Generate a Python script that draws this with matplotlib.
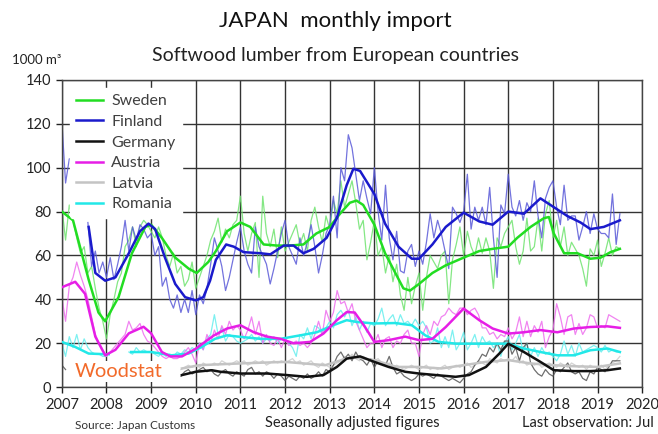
import matplotlib
matplotlib.use("Agg")
import matplotlib.pyplot as plt
import numpy as np

nan = np.nan

# monthly raw figures (1000 m3), Jan 2007 - Jul 2019
sweden = [82, 67, 83, 76, 68, 61, 64, 52, 55, 45, 36, 30,
          22, 33, 40, 48, 52, 64, 67, 73, 64, 73, 76, 74,
          71, 68, 73, 68, 60, 55, 61, 52, 55, 46, 49, 57,
          45, 50, 55, 60, 67, 71, 77, 66, 72, 68, 74, 76,
          87, 70, 62, 70, 75, 50, 87, 70, 64, 72, 59, 73,
          62, 66, 70, 74, 65, 70, 62, 76, 82, 73, 66, 78,
          72, 85, 79, 94, 82, 88, 94, 84, 72, 76, 58, 66,
          76, 60, 64, 52, 60, 48, 56, 42, 35, 50, 38, 46,
          52, 35, 50, 60, 57, 54, 60, 62, 38, 58, 65, 73,
          60, 71, 64, 60, 68, 61, 68, 62, 45, 68, 64, 70,
          73, 76, 64, 56, 62, 77, 62, 64, 77, 62, 79, 85,
          68, 76, 64, 73, 60, 66, 63, 60, 54, 46, 63, 60,
          67, 55, 61, 68, 60, 64, 63]
finland = [121, 93, 104, 104, 99, nan, nan, 75, 55, 62, 52, 57,
           50, 59, 49, 56, 64, 76, 62, 73, 67, 74, 72, 68,
           70, 60, 64, 46, 50, 40, 36, 42, 34, 40, 34, 44,
           33, 42, 38, 45, 56, 68, 62, 55, 44, 50, 58, 66,
           73, 62, 56, 52, 73, 64, 60, 56, 47, 54, 62, 70,
           76, 64, 60, 56, 68, 60, 66, 74, 64, 52, 60, 70,
           74, 87, 68, 100, 94, 115, 109, 97, 85, 94, 86, 79,
           100, 80, 67, 92, 68, 58, 71, 53, 52, 62, 65, 55,
           62, 56, 66, 79, 68, 76, 70, 62, 54, 82, 79, 75,
           80, 97, 72, 82, 76, 82, 74, 91, 68, 50, 83, 79,
           97, 82, 78, 85, 76, 84, 80, 94, 78, 68, 86, 91,
           94, 82, 74, 92, 76, 78, 78, 67, 73, 80, 70, 79,
           72, 70, 70, 68, 88, 65, 79]
germany = [10, 8, nan, nan, nan, nan, nan, nan, nan, nan, nan, nan,
           nan, nan, nan, nan, nan, nan, nan, nan, nan, nan, nan, nan,
           nan, nan, nan, nan, nan, nan, nan, nan, 5, 7, 8, 6,
           7, 8, 9, 7, 8, 6, 5, 7, 8, 6, 5, 7,
           6, 5, 8, 9, 6, 7, 5, 7, 6, 4, 6, 5,
           3, 5, 4, 3, 5, 4, 6, 4, 5, 7, 5, 8,
           7, 10, 14, 16, 13, 15, 12, 16, 13, 12, 10, 13,
           9, 12, 11, 10, 14, 9, 6, 7, 5, 4, 3, 4,
           6, 5, 6, 5, 4, 6, 5, 4, 3, 4, 3, 2,
           4, 6, 7, 10, 12, 15, 14, 18, 16, 20, 17, 21,
           21, 15, 18, 12, 18, 20, 11, 8, 6, 5, 8, 6,
           5, 8, 7, 9, 11, 7, 6, 7, 4, 3, 7, 6,
           9, 8, 7, 9, 12, 12, 12]
austria = [41, 30, 46, 50, 57, 51, 46, 40, 32, 24, 20, 17,
           14, 16, 18, 20, 22, 24, 30, 26, 27, 29, 24, 21,
           20, 18, 16, 14, 13, 14, 13, 13, 14, 16, 18, 15,
           11, 20, 17, 24, 20, 26, 22, 28, 24, 30, 26, 28,
           26, 22, 26, 32, 24, 30, 20, 24, 20, 19, 22, 18,
           22, 19, 20, 21, 19, 20, 18, 20, 24, 30, 24, 35,
           30, 34, 44, 38, 39, 34, 38, 30, 26, 22, 18, 20,
           20, 24, 18, 22, 23, 18, 21, 20, 24, 26, 20, 20,
           14, 24, 28, 24, 30, 28, 32, 33, 36, 34, 33, 36,
           36, 33, 35, 36, 33, 27, 27, 24, 25, 22, 24, 23,
           27, 22, 25, 32, 23, 30, 23, 28, 25, 30, 18, 23,
           26, 38, 32, 24, 32, 33, 24, 29, 24, 27, 33, 32,
           27, 28, 27, 33, 32, 31, 30]
latvia = [nan, nan, nan, nan, nan, nan, nan, nan, nan, nan, nan, nan,
          nan, nan, nan, nan, nan, nan, nan, nan, nan, nan, nan, nan,
          nan, nan, nan, nan, nan, nan, nan, nan, 8, 9, 10, 9,
          10, 9, 11, 10, 10, 11, 10, 12, 11, 10, 11, 12,
          11, 12, 10, 11, 12, 11, 12, 10, 11, 12, 11, 12,
          11, 12, 13, 11, 12, 10, 11, 12, 10, 9, 11, 10,
          9, 10, 11, 12, 14, 13, 15, 13, 12, 14, 13, 12,
          12, 13, 11, 10, 11, 9, 10, 9, 8, 9, 10, 9,
          8, 9, 10, 8, 9, 8, 9, 10, 8, 9, 10, 9,
          10, 11, 9, 10, 12, 11, 10, 13, 12, 11, 13, 12,
          13, 12, 14, 11, 12, 10, 11, 10, 11, 9, 10, 11,
          10, 9, 11, 10, 9, 11, 10, 9, 10, 8, 10, 9,
          9, 10, 8, 10, 11, 12, 14]
romania = [20, 14, 23, 18, 24, 17, 22, 18, 16, 15, 15, 14,
           14, nan, nan, nan, nan, nan, 16, 15, 18, 16, 17, 16,
           16, 15, 14, 16, 14, 15, 14, 16, 15, 17, 16, 18,
           17, 20, 17, 22, 24, 33, 24, 27, 21, 24, 23, 21,
           20, 21, 22, 24, 21, 23, 20, 22, 21, 23, 20, 22,
           22, 20, 18, 14, 24, 22, 27, 22, 28, 27, 24, 27,
           30, 27, 33, 35, 32, 35, 28, 32, 26, 30, 25, 29,
           28, 31, 36, 28, 31, 33, 28, 33, 29, 30, 28, 31,
           28, 30, 27, 20, 21, 27, 18, 23, 18, 26, 17, 20,
           25, 17, 20, 24, 18, 23, 20, 21, 18, 20, 14, 20,
           23, 17, 20, 24, 16, 20, 14, 18, 14, 18, 15, 16,
           14, 12, 15, 21, 15, 19, 14, 20, 16, 17, 18, 19,
           18, 16, 19, 16, 17, 16, 16]

# smoothed trend lines (year, value)
sweden_tx = [2007.0, 2007.25, 2007.6, 2007.82, 2007.97, 2008.27, 2008.57, 2008.87, 2009.0,
             2009.24, 2009.54, 2009.84, 2010.02, 2010.28, 2010.45, 2010.7, 2011.0, 2011.22,
             2011.52, 2011.82, 2012.11, 2012.41, 2012.7, 2013.0, 2013.23, 2013.45, 2013.6,
             2013.75, 2014.0, 2014.24, 2014.47, 2014.65, 2014.8, 2015.0, 2015.3, 2015.6,
             2016.0, 2016.35, 2016.65, 2017.0, 2017.2, 2017.5, 2017.8, 2017.91, 2018.02,
             2018.25, 2018.55, 2018.84, 2019.07, 2019.29, 2019.5]
sweden_t = [80, 76, 49, 34, 30, 41, 61, 73, 74, 68, 59, 54, 52, 57, 62, 71, 75, 73, 65, 64.5,
            64.5, 65, 70, 73, 79, 84, 85, 83, 74, 61, 52, 45, 44, 47, 52, 55.5, 59, 62, 63, 64,
            68, 73, 77, 77.5, 70, 61, 61, 58.5, 59, 61.5, 63]
finland_tx = [2007.6, 2007.75, 2007.97, 2008.2, 2008.5, 2008.75, 2008.94, 2009.09, 2009.31,
              2009.54, 2009.76, 2010.0, 2010.17, 2010.32, 2010.45, 2010.68, 2010.85, 2011.07,
              2011.45, 2011.67, 2011.97, 2012.19, 2012.41, 2012.64, 2012.93, 2013.16, 2013.38,
              2013.53, 2013.68, 2014.0, 2014.24, 2014.54, 2014.84, 2015.0, 2015.3, 2015.6,
              2016.0, 2016.35, 2016.65, 2017.0, 2017.35, 2017.72, 2018.02, 2018.32, 2018.62,
              2018.84, 2019.14, 2019.5]
finland_t = [73, 52, 48.5, 50, 61, 71, 74.5, 72, 59, 47, 41, 39.5, 41, 48.5, 58, 65, 64, 61.5,
             61, 60.5, 64.5, 64.5, 61, 63, 68, 77, 92, 99.5, 98.5, 88, 74.5, 64, 58.5, 58.5,
             65, 73, 79.5, 75.5, 74, 80, 79, 86, 82, 78, 75, 72, 73, 76]
germany_tx = [2009.69, 2010.0, 2010.36, 2010.55, 2011.0, 2011.6, 2012.04, 2012.49, 2012.86,
              2013.16, 2013.38, 2013.68, 2014.0, 2014.32, 2014.69, 2015.0, 2015.38, 2015.82,
              2016.12, 2016.5, 2016.8, 2017.0, 2017.35, 2017.72, 2018.02, 2018.47, 2018.84,
              2019.22, 2019.5]
germany_t = [5.5, 7, 7.7, 7, 6.2, 6.2, 5.5, 4.7, 5.5, 9.2, 13, 14, 11.5, 9.2, 7, 6.2, 5.5,
             4.7, 5.5, 9.2, 15.3, 19.8, 16, 11.5, 7.7, 7.3, 7.3, 7.7, 8.5]
austria_tx = [2007.0, 2007.3, 2007.52, 2007.75, 2007.97, 2008.2, 2008.5, 2008.83, 2009.0,
              2009.24, 2009.43, 2009.69, 2010.0, 2010.4, 2010.7, 2011.0, 2011.3, 2011.6,
              2011.9, 2012.19, 2012.56, 2012.86, 2013.16, 2013.38, 2013.56, 2013.79, 2014.0,
              2014.32, 2014.69, 2015.0, 2015.3, 2015.6, 2016.0, 2016.35, 2016.65, 2017.0,
              2017.35, 2017.72, 2018.1, 2018.47, 2018.84, 2019.22, 2019.5]
austria_t = [45.5, 48, 42.5, 23, 14.5, 17, 24.5, 27.5, 24.5, 16, 14, 14, 17.5, 23.5, 26.7,
             28.2, 25, 23, 22, 20, 20.6, 24.4, 30.5, 34.2, 34, 27.4, 20.6, 21.4, 23, 21.4,
             22, 27.4, 35.8, 30.5, 26.7, 24.4, 25, 26, 25, 26.7, 27.4, 27.7, 27]
latvia_tx = [2009.69, 2010.08, 2011.0, 2012.0, 2012.9, 2013.5, 2014.0, 2014.5, 2015.0,
             2015.5, 2016.0, 2016.5, 2017.0, 2017.5, 2018.0, 2018.5, 2019.0, 2019.5]
latvia_t = [8.5, 10, 10.8, 11.5, 10, 13.8, 12.3, 9.2, 9.2, 8.5, 10, 11.5, 12.3, 10.8, 10,
            9.5, 9.2, 10.8]
romania_tx = [2007.0, 2007.3, 2007.6, 2007.97, 2008.05, 2008.3, 2008.55, 2009.0, 2009.46,
              2009.84, 2010.13, 2010.43, 2010.7, 2011.0, 2011.45, 2011.9, 2012.34, 2012.71,
              2013.08, 2013.38, 2013.6, 2014.0, 2014.47, 2014.84, 2015.14, 2015.44, 2015.83,
              2016.2, 2016.58, 2017.0, 2017.35, 2017.72, 2018.1, 2018.47, 2018.84, 2019.22,
              2019.5]
romania_t = [20.6, 18.3, 15.3, 15, 15, nan, 16, 16, 14.5, 15.3, 18.3, 22, 23.6, 22.9, 22, 22,
             23.6, 25, 28.2, 30.5, 29.7, 29, 29.2, 28.2, 23.6, 20.6, 19.8, 19.8, 19.8, 19.8,
             17.6, 16, 14.5, 14.5, 16.8, 17.6, 16]

names = ["Sweden", "Finland", "Germany", "Austria", "Latvia", "Romania"]
raw_cols = ["#6fe36f", "#5a5ad8", "#555555", "#ee6eee", "#cccccc", "#66eeee"]
trend_cols = ["#22dd22", "#1a1acc", "#111111", "#e61ee6", "#c4c4c4", "#22e8e8"]

plt.rcParams['font.family'] = ['Lato', 'DejaVu Sans']

months = 2007 + np.arange(len(sweden)) / 12.0

fig = plt.figure(figsize=(6.58, 4.34), dpi=100)
ax = fig.add_axes([0.094, 0.108, 0.882, 0.708])

raws = [sweden, finland, germany, austria, latvia, romania]
trends = [(sweden_tx, sweden_t), (finland_tx, finland_t), (germany_tx, germany_t),
          (austria_tx, austria_t), (latvia_tx, latvia_t), (romania_tx, romania_t)]

# draw order: light series underneath
order = [4, 5, 3, 2, 0, 1]
for i in order:
    ax.plot(months, raws[i], color=raw_cols[i], lw=0.9, alpha=0.85, zorder=2)
for i in order:
    tx, ty = trends[i]
    ax.plot(tx, ty, color=trend_cols[i], lw=1.8, zorder=3)

# legend handles
handles = [plt.Line2D([], [], color=trend_cols[i], lw=1.8) for i in range(6)]
leg = ax.legend(handles, names, loc="upper left", bbox_to_anchor=(0.0, 1.0),
                frameon=True, fontsize=11.5, handlelength=1.7, labelspacing=0.4,
                borderpad=0.4, handletextpad=0.5)
leg.get_frame().set_facecolor("white")
leg.get_frame().set_edgecolor("white")
leg.get_frame().set_alpha(1)
leg.set_zorder(5)
for t in leg.get_texts():
    t.set_color("#404040")

ax.set_xlim(2007, 2020)
ax.set_ylim(0, 140)
ax.set_xticks(range(2007, 2021))
ax.set_yticks(range(0, 141, 20))
ax.grid(True, color="#333333", lw=1.0, zorder=1)
ax.set_axisbelow(True)
for s in ax.spines.values():
    s.set_color("#444444")
    s.set_linewidth(1.0)
ax.tick_params(axis="both", labelsize=10.5, colors="#222222", length=4, width=1)

fig.text(0.51, 0.951, "JAPAN  monthly import", ha="center", va="center", fontsize=16, color="#111111")
fig.text(0.51, 0.873, "Softwood lumber from European countries", ha="center", va="center",
         fontsize=14, color="#222222")
fig.text(0.018, 0.862, "1000 m³", ha="left", va="center", fontsize=9.5, color="#222222")

ax.text(0.022, 0.05, "Woodstat", transform=ax.transAxes, ha="left", va="center",
        fontsize=14.5, color="#f26a2a",
        bbox=dict(facecolor="white", edgecolor="none", pad=1.5), zorder=6)

fig.text(0.114, 0.006, "Source: Japan Customs", ha="left", va="bottom", fontsize=8.5, color="#333333")
fig.text(0.535, 0.01, "Seasonally adjusted figures", ha="center", va="bottom", fontsize=10.5, color="#222222")
fig.text(0.994, 0.01, "Last observation: Jul", ha="right", va="bottom", fontsize=10.5, color="#222222")

fig.savefig("out.png", dpi=100)
